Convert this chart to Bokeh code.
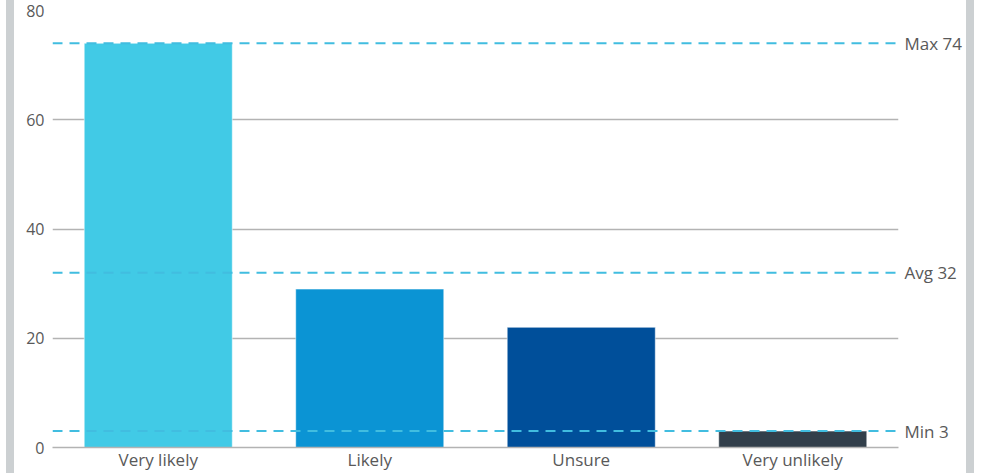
from bokeh.plotting import figure
from bokeh.models import Span, FixedTicker, Range1d, Spacer, LinearAxis
from bokeh.layouts import row
from bokeh.embed import file_html
from bokeh.resources import INLINE

categories = ["Very likely", "Likely", "Unsure", "Very unlikely"]
values = [74, 29, 22, 3]
colors = ["#41CAE6", "#0B94D4", "#004F9A", "#323F4B"]
y_ticks = [0, 20, 40, 60, 80]

max_v = max(values)
min_v = min(values)
avg_v = sum(values) / len(values)
ref_lines = [(max_v, "Max"), (avg_v, "Avg"), (min_v, "Min")]

xs = [i + 0.5 for i in range(len(categories))]

p = figure(width=952, height=473, output_backend="svg", toolbar_location=None,
           x_range=Range1d(0, len(categories)), y_range=Range1d(0, 80),
           min_border_left=38, min_border_right=68, min_border_top=10, min_border_bottom=26)
p.outline_line_color = None

p.vbar(x=xs, top=values, width=0.7, fill_color=colors, line_color="white", line_alpha=0.5, line_width=1)

p.xgrid.grid_line_color = None
p.ygrid.grid_line_color = "#b3b3b3"
p.ygrid.grid_line_width = 1.5
p.ygrid.ticker = FixedTicker(ticks=y_ticks)

p.yaxis.ticker = FixedTicker(ticks=y_ticks)
p.yaxis.axis_line_color = None
p.yaxis.major_tick_line_color = None
p.yaxis.minor_tick_line_color = None
p.yaxis.major_tick_out = 0
p.yaxis.major_tick_in = 0
p.yaxis.major_label_standoff = 8
p.yaxis.major_label_text_font = "Open Sans"
p.yaxis.major_label_text_font_size = "16px"
p.yaxis.major_label_text_color = "#595959"

p.xaxis.ticker = FixedTicker(ticks=xs)
p.xaxis.major_label_overrides = {x: c for x, c in zip(xs, categories)}
p.xaxis.axis_line_color = "#b3b3b3"
p.xaxis.axis_line_width = 1.5
p.xaxis.major_tick_line_color = None
p.xaxis.minor_tick_line_color = None
p.xaxis.major_tick_out = 0
p.xaxis.major_tick_in = 0
p.xaxis.major_label_standoff = 0
p.xaxis.major_label_text_font = "Open Sans"
p.xaxis.major_label_text_font_size = "17px"
p.xaxis.major_label_text_color = "#595959"

for v, name in ref_lines:
    p.add_layout(Span(location=v, dimension="width", line_color="#41BDE0",
                      line_width=2, line_dash="10 7"))

right_axis = LinearAxis(ticker=FixedTicker(ticks=[float(v) for v, _ in ref_lines]),
                        major_label_overrides={float(v): f"{n} {v:g}" for v, n in ref_lines})
right_axis.axis_line_color = None
right_axis.major_tick_line_color = None
right_axis.minor_tick_line_color = None
right_axis.major_tick_out = 0
right_axis.major_tick_in = 0
right_axis.major_label_standoff = 6
right_axis.major_label_text_font = "Open Sans"
right_axis.major_label_text_font_size = "17px"
right_axis.major_label_text_color = "#595959"
p.add_layout(right_axis, "right")

white_pad = Spacer(width=6, height=473)
left_bar = Spacer(width=8, height=473, styles={"background-color": "#ccd0d2"})
right_bar = Spacer(width=8, height=473, styles={"background-color": "#ccd0d2"})
layout = row(white_pad, left_bar, p, right_bar, spacing=0)

open("out.html", "w").write(file_html(layout, INLINE))
